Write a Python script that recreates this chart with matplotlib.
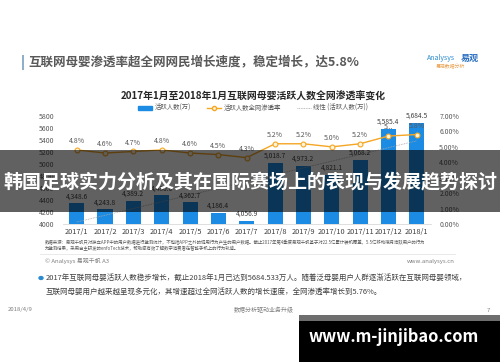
import numpy as np
import matplotlib.pyplot as plt
from matplotlib.patches import Rectangle
from matplotlib.lines import Line2D
from matplotlib.patches import Patch

plt.rcParams['font.family'] = ['Noto Sans CJK SC', 'DejaVu Sans']

# data
months = ['2017/1', '2017/2', '2017/3', '2017/4', '2017/5', '2017/6', '2017/7',
          '2017/8', '2017/9', '2017/10', '2017/11', '2017/12', '2018/1']
active = [4348.6, 4243.8, 4389.2, 4480.0, 4362.7, 4186.4, 4056.9,
          5018.7, 4973.2, 4821.1, 5068.2, 5585.4, 5684.5]
rate = [4.8, 4.6, 4.7, 4.8, 4.6, 4.5, 4.3, 5.2, 5.2, 5.0, 5.2, 5.7, 5.8]
rate_labels = [f'{r:.1f}%' for r in rate]
rate_labels[11] = '5...'
left_ticks = list(range(4000, 5801, 200))
right_ticks = [0, 1, 2, 3, 4, 5, 6, 7]

W, H = 500, 362
fig = plt.figure(figsize=(5, 3.62), dpi=100)
fig.patch.set_facecolor('white')

def fx(x):
    return x / W

def fy(y):
    return 1 - y / H

grey = '#595959'

# slide header
fig.add_artist(Rectangle((fx(22), fy(70)), fx(2), 15 / H, color='#8fb0c8', lw=0))
fig.text(fx(28), fy(62), '互联网母婴渗透率超全网网民增长速度，稳定增长，达5.8%',
         fontsize=9, fontweight='bold', color=grey, va='center')
fig.text(fx(427), fy(58), 'Analysys', fontsize=5, color='#2a8bd0', va='center')
fig.text(fx(461), fy(58), '易观', fontsize=6.5, fontweight='bold', color='#2a6fc0', va='center')
fig.text(fx(436), fy(67), '易观数据分析', fontsize=3.5, color='#e8a050', va='center')

# chart title
fig.text(fx(253), fy(97), '2017年1月至2018年1月互联网母婴活跃人数全网渗透率变化',
         fontsize=7.1, fontweight='bold', color='#262626', ha='center', va='center')

ax = fig.add_axes([fx(62.5), fy(224), (430.9 - 62.5) / W, (224 - 116) / H])
x = np.arange(len(months))
bar_color = '#1c8be3'
ax.bar(x, active, width=0.53, color=bar_color, zorder=2)
ax.set_ylim(4000, 5800)
ax.set_xlim(-0.5, len(months) - 0.5)
ax.set_yticks(left_ticks)
ax.set_xticks(x)
ax.set_xticklabels(months)
ax.tick_params(axis='y', labelsize=5, colors=grey, length=0, pad=6)
ax.tick_params(axis='x', labelsize=5.3, colors='#404040', length=0, pad=3)
for s in ['top', 'right', 'left']:
    ax.spines[s].set_visible(False)
ax.spines['bottom'].set_color('#d9d9d9')
ax.spines['bottom'].set_linewidth(0.6)
for i, v in enumerate(active):
    ax.annotate(f'{v:,.1f}', (i, v), xytext=(0, 2), textcoords='offset points',
                ha='center', va='bottom', fontsize=4.8, color='#404040', zorder=5)

# linear trend of active users
k, b = np.polyfit(x, active, 1)
ax.plot(x, k * x + b, ls=(0, (1, 1)), color='#a6a6a6', lw=0.6, zorder=3)

ax2 = ax.twinx()
ax2.plot(x, np.array(rate) / 100, color='#f5a623', lw=1.0, marker='o', ms=3.5,
         mfc='#fff4dc', mec='#f5a623', mew=0.8, zorder=4)
ax2.set_ylim(0, 0.07)
ax2.set_yticks([t / 100 for t in right_ticks])
ax2.set_yticklabels([f'{t:.2f}%' for t in right_ticks])
ax2.tick_params(axis='y', labelsize=5, colors=grey, length=0, pad=6)
for s in ['top', 'right', 'left', 'bottom']:
    ax2.spines[s].set_visible(False)
for i, r in enumerate(rate):
    ax2.annotate(rate_labels[i], (i, r / 100), xytext=(0, 3.5), textcoords='offset points',
                 ha='center', va='bottom', fontsize=5, color=grey)

# legend
handles = [Patch(color=bar_color),
           Line2D([], [], color='#f5a623', lw=1, marker='o', ms=3, mfc='#fff4dc'),
           Line2D([], [], color='#a6a6a6', lw=0.6, ls=(0, (1, 1)))]
labels = ['活跃人数(万)', '活跃人数全网渗透率', '线性 (活跃人数(万))']
fig.legend(handles, labels, loc='center', bbox_to_anchor=(fx(253), fy(108)), ncol=3,
           frameon=False, fontsize=4.6, handlelength=2.2, handleheight=0.5,
           columnspacing=2.5, handletextpad=0.4, labelcolor=grey)

# footnote and source
fig.text(fx(45), fy(243), '数据来源：易观千帆只对独立APP中的用户数据进行监测统计，不包括APP之外的调用行为产生的用户数据。'
         '截止2017年第4季度易观千帆基于对22.5亿累计装机覆盖，5.5亿移动端月活跃用户的行为',
         fontsize=3.2, color=grey, va='center')
fig.text(fx(45), fy(249), '为监测结果，采用自主研发的enfoTech技术，帮助您有效了解数字消费者在智能手机上的行为轨迹。',
         fontsize=3.2, color=grey, va='center')
fig.add_artist(Line2D([fx(40), fx(455)], [fy(254), fy(254)], color='#e6e6e6', lw=0.6))
fig.text(fx(45), fy(261), '© Analysys 易观千帆 A3', fontsize=4.3, color='#808080', va='center')
fig.text(fx(455), fy(261), 'www.analysys.cn', fontsize=4.3, color='#808080', va='center', ha='right')

# bullet text
fig.add_artist(plt.Circle((fx(41), fy(278)), 0.004, color='#2a8bd0', transform=fig.transFigure))
fig.text(fx(46), fy(278), '2017年互联网母婴活跃人数稳步增长，截止2018年1月已达到5684.533万人。随着泛母婴用户人群逐渐活跃在互联网母婴领域，',
         fontsize=5.4, color='#404040', va='center')
fig.text(fx(46), fy(292), '互联网母婴用户越来越呈现多元化，其增速超过全网活跃人数的增长速度，全网渗透率增长到5.76%。',
         fontsize=5.4, color='#404040', va='center')

# slide footer
fig.text(fx(8), fy(310), '2018/4/9', fontsize=4.3, color='#808080', va='center')
fig.text(fx(264), fy(310), '数据分析驱动业务升级', fontsize=4.3, color='#808080', va='center', ha='center')
fig.text(fx(487), fy(310), '7', fontsize=4.3, color='#808080', va='center')

# dark overlay banner
fig.add_artist(Rectangle((0, fy(212)), 1, 62 / H, color='black', alpha=0.62, lw=0, zorder=10))
fig.text(0.5, fy(182), '韩国足球实力分析及其在国际赛场上的表现与发展趋势探讨',
         fontsize=13.7, fontweight='bold', color='white', ha='center', va='center', zorder=11)

# site stamp bottom right
fig.add_artist(Rectangle((fx(299), 0), 1 - fx(299), 47 / H, color='#6e6e6e', lw=0, zorder=10))
fig.add_artist(Rectangle((fx(299), 0), 1 - fx(299), 41 / H, color='black', lw=0, zorder=10))
fig.text(fx(394), fy(337), 'www.m-jinjibao.com', fontsize=11.8, fontweight='bold',
         color='white', ha='center', va='center', zorder=11)

fig.savefig('out.png', dpi=100)
